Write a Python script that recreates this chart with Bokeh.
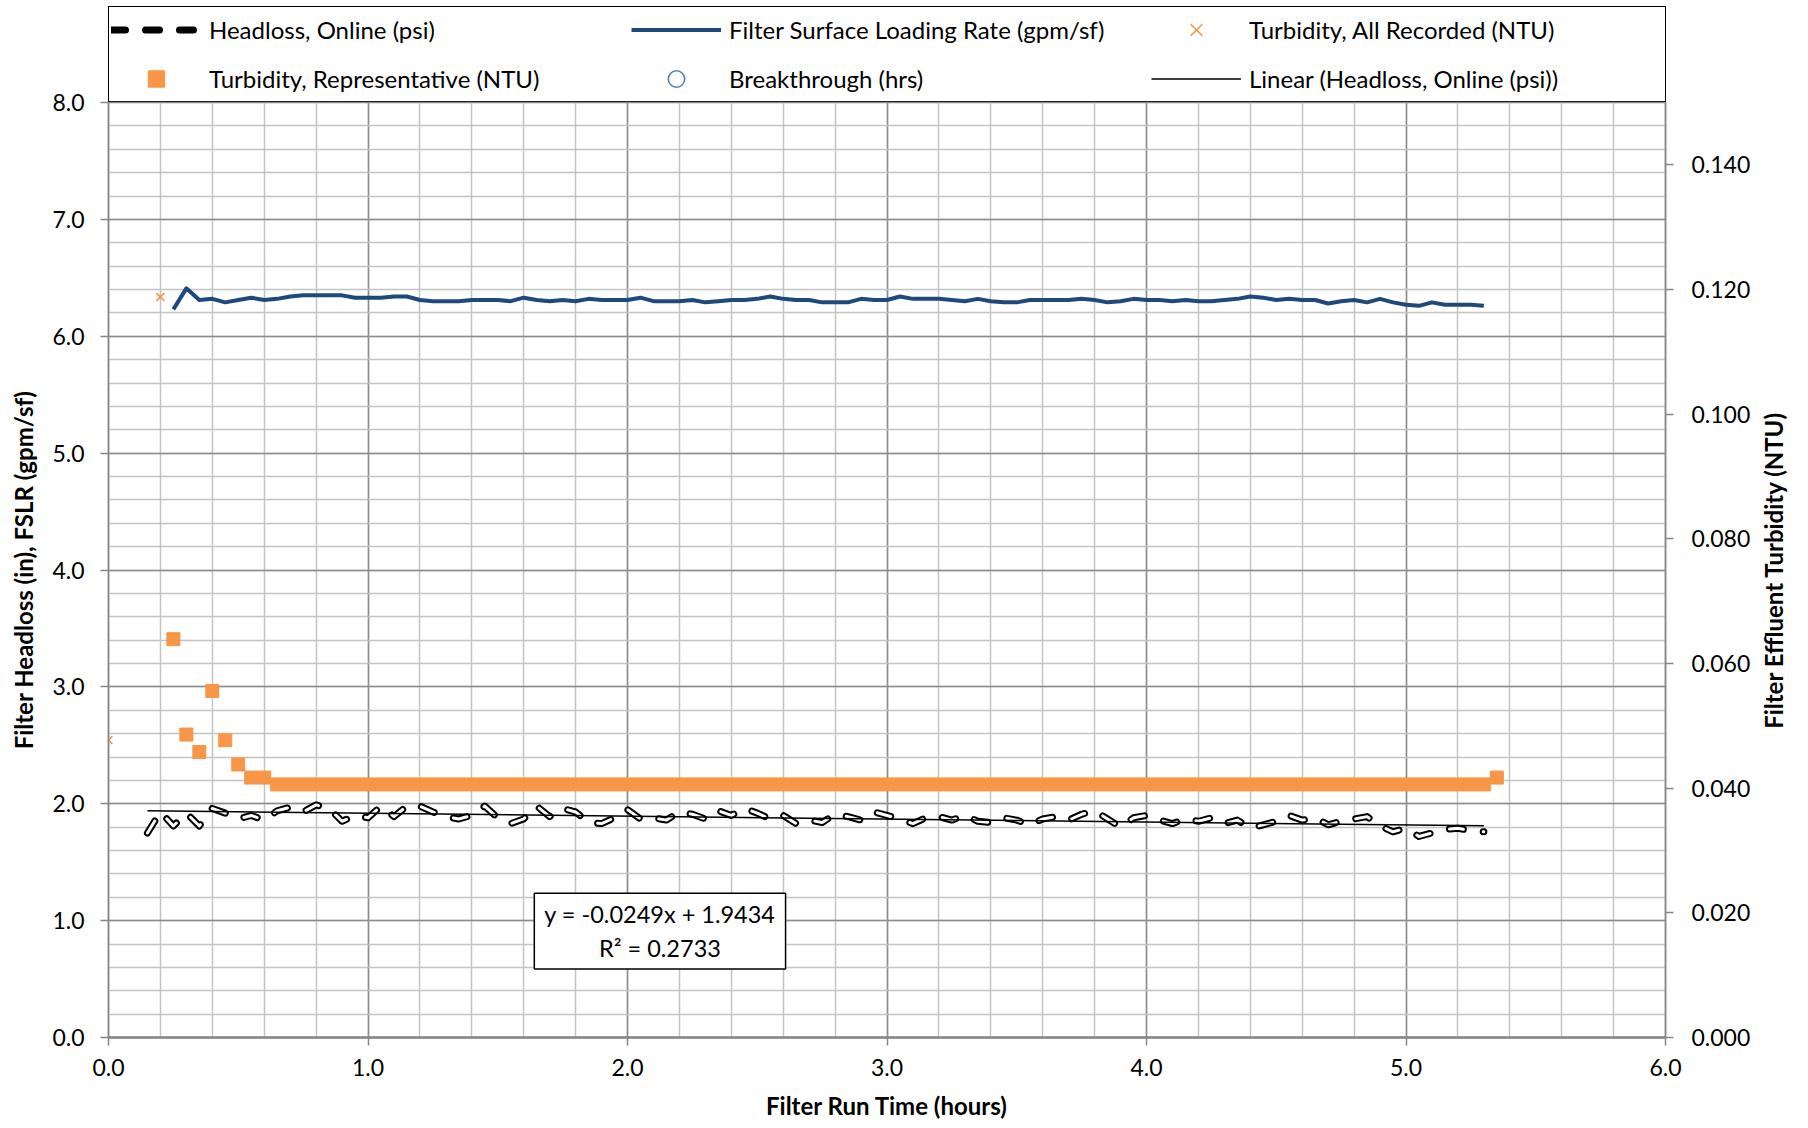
import math
from bokeh.plotting import figure
from bokeh.layouts import column, row
from bokeh.models import (Range1d, LinearAxis, SingleIntervalTicker, NumeralTickFormatter,
                          Legend, LegendItem, Label, ColumnDataSource)
from bokeh.embed import file_html
from bokeh.resources import INLINE

# ---------------- data ----------------
FSLR_TIME = [
    0.25, 0.30, 0.35, 0.40, 0.45, 0.50, 0.55, 0.60, 0.65, 0.70,
    0.75, 0.80, 0.85, 0.90, 0.95, 1.00, 1.05, 1.10, 1.15, 1.20,
    1.25, 1.30, 1.35, 1.40, 1.45, 1.50, 1.55, 1.60, 1.65, 1.70,
    1.75, 1.80, 1.85, 1.90, 1.95, 2.00, 2.05, 2.10, 2.15, 2.20,
    2.25, 2.30, 2.35, 2.40, 2.45, 2.50, 2.55, 2.60, 2.65, 2.70,
    2.75, 2.80, 2.85, 2.90, 2.95, 3.00, 3.05, 3.10, 3.15, 3.20,
    3.25, 3.30, 3.35, 3.40, 3.45, 3.50, 3.55, 3.60, 3.65, 3.70,
    3.75, 3.80, 3.85, 3.90, 3.95, 4.00, 4.05, 4.10, 4.15, 4.20,
    4.25, 4.30, 4.35, 4.40, 4.45, 4.50, 4.55, 4.60, 4.65, 4.70,
    4.75, 4.80, 4.85, 4.90, 4.95, 5.00, 5.05, 5.10, 5.15, 5.20,
    5.25, 5.30,
]
FSLR = [
    6.23, 6.41, 6.31, 6.32, 6.29, 6.31, 6.33, 6.31, 6.32, 6.34,
    6.35, 6.35, 6.35, 6.35, 6.33, 6.33, 6.33, 6.34, 6.34, 6.31,
    6.30, 6.30, 6.30, 6.31, 6.31, 6.31, 6.30, 6.33, 6.31, 6.30,
    6.31, 6.30, 6.32, 6.31, 6.31, 6.31, 6.33, 6.30, 6.30, 6.30,
    6.31, 6.29, 6.30, 6.31, 6.31, 6.32, 6.34, 6.32, 6.31, 6.31,
    6.29, 6.29, 6.29, 6.32, 6.31, 6.31, 6.34, 6.32, 6.32, 6.32,
    6.31, 6.30, 6.32, 6.30, 6.29, 6.29, 6.31, 6.31, 6.31, 6.31,
    6.32, 6.31, 6.29, 6.30, 6.32, 6.31, 6.31, 6.30, 6.31, 6.30,
    6.30, 6.31, 6.32, 6.34, 6.33, 6.31, 6.32, 6.31, 6.31, 6.28,
    6.30, 6.31, 6.29, 6.32, 6.29, 6.27, 6.26, 6.29, 6.27, 6.27,
    6.27, 6.26,
]

HEADLOSS_TIME = [
    0.15, 0.20, 0.25, 0.30, 0.35, 0.40, 0.45, 0.50, 0.55, 0.60,
    0.65, 0.70, 0.75, 0.80, 0.85, 0.90, 0.95, 1.00, 1.05, 1.10,
    1.15, 1.20, 1.25, 1.30, 1.35, 1.40, 1.45, 1.50, 1.55, 1.60,
    1.65, 1.70, 1.75, 1.80, 1.85, 1.90, 1.95, 2.00, 2.05, 2.10,
    2.15, 2.20, 2.25, 2.30, 2.35, 2.40, 2.45, 2.50, 2.55, 2.60,
    2.65, 2.70, 2.75, 2.80, 2.85, 2.90, 2.95, 3.00, 3.05, 3.10,
    3.15, 3.20, 3.25, 3.30, 3.35, 3.40, 3.45, 3.50, 3.55, 3.60,
    3.65, 3.70, 3.75, 3.80, 3.85, 3.90, 3.95, 4.00, 4.05, 4.10,
    4.15, 4.20, 4.25, 4.30, 4.35, 4.40, 4.45, 4.50, 4.55, 4.60,
    4.65, 4.70, 4.75, 4.80, 4.85, 4.90, 4.95, 5.00, 5.05, 5.10,
    5.15, 5.20, 5.25, 5.30,
]
HEADLOSS = [
    1.75, 1.93, 1.81, 1.92, 1.81, 1.96, 1.92, 1.87, 1.90, 1.86,
    1.94, 1.97, 1.93, 1.99, 1.96, 1.85, 1.90, 1.88, 1.98, 1.89,
    1.98, 1.98, 1.93, 1.89, 1.87, 1.90, 1.98, 1.88, 1.83, 1.87,
    1.98, 1.89, 1.96, 1.93, 1.84, 1.83, 1.88, 1.95, 1.87, 1.88,
    1.86, 1.93, 1.91, 1.87, 1.94, 1.90, 1.96, 1.92, 1.87, 1.90,
    1.83, 1.86, 1.84, 1.91, 1.89, 1.86, 1.93, 1.90, 1.87, 1.83,
    1.88, 1.89, 1.86, 1.90, 1.85, 1.84, 1.88, 1.86, 1.82, 1.87,
    1.89, 1.86, 1.91, 1.94, 1.87, 1.80, 1.88, 1.90, 1.86, 1.83,
    1.87, 1.85, 1.88, 1.83, 1.86, 1.79, 1.82, 1.85, 1.90, 1.86,
    1.88, 1.82, 1.85, 1.87, 1.89, 1.81, 1.76, 1.79, 1.72, 1.75,
    1.78, 1.79, 1.77, 1.76,
]

TURB_REP_TIME = [
    0.25, 0.30, 0.35, 0.40, 0.45, 0.50, 0.55, 0.60, 0.65, 0.70,
    0.75, 0.80, 0.85, 0.90, 0.95, 1.00, 1.05, 1.10, 1.15, 1.20,
    1.25, 1.30, 1.35, 1.40, 1.45, 1.50, 1.55, 1.60, 1.65, 1.70,
    1.75, 1.80, 1.85, 1.90, 1.95, 2.00, 2.05, 2.10, 2.15, 2.20,
    2.25, 2.30, 2.35, 2.40, 2.45, 2.50, 2.55, 2.60, 2.65, 2.70,
    2.75, 2.80, 2.85, 2.90, 2.95, 3.00, 3.05, 3.10, 3.15, 3.20,
    3.25, 3.30, 3.35, 3.40, 3.45, 3.50, 3.55, 3.60, 3.65, 3.70,
    3.75, 3.80, 3.85, 3.90, 3.95, 4.00, 4.05, 4.10, 4.15, 4.20,
    4.25, 4.30, 4.35, 4.40, 4.45, 4.50, 4.55, 4.60, 4.65, 4.70,
    4.75, 4.80, 4.85, 4.90, 4.95, 5.00, 5.05, 5.10, 5.15, 5.20,
    5.25, 5.30, 5.35,
]
TURB_REP = [
    0.0639, 0.0486, 0.0458, 0.0556, 0.0477, 0.0438, 0.0417, 0.0417, 0.0406, 0.0406,
    0.0406, 0.0406, 0.0406, 0.0406, 0.0406, 0.0406, 0.0406, 0.0406, 0.0406, 0.0406,
    0.0406, 0.0406, 0.0406, 0.0406, 0.0406, 0.0406, 0.0406, 0.0406, 0.0406, 0.0406,
    0.0406, 0.0406, 0.0406, 0.0406, 0.0406, 0.0406, 0.0406, 0.0406, 0.0406, 0.0406,
    0.0406, 0.0406, 0.0406, 0.0406, 0.0406, 0.0406, 0.0406, 0.0406, 0.0406, 0.0406,
    0.0406, 0.0406, 0.0406, 0.0406, 0.0406, 0.0406, 0.0406, 0.0406, 0.0406, 0.0406,
    0.0406, 0.0406, 0.0406, 0.0406, 0.0406, 0.0406, 0.0406, 0.0406, 0.0406, 0.0406,
    0.0406, 0.0406, 0.0406, 0.0406, 0.0406, 0.0406, 0.0406, 0.0406, 0.0406, 0.0406,
    0.0406, 0.0406, 0.0406, 0.0406, 0.0406, 0.0406, 0.0406, 0.0406, 0.0406, 0.0406,
    0.0406, 0.0406, 0.0406, 0.0406, 0.0406, 0.0406, 0.0406, 0.0406, 0.0406, 0.0406,
    0.0406, 0.0406, 0.0417,
]

TURB_ALL_TIME = [0.0, 0.2]
TURB_ALL = [0.0477, 0.1188]

BREAKTHROUGH_TIME = []
BREAKTHROUGH = []

TREND_TIME = [0.15, 5.30]
TREND_SLOPE = -0.0249
TREND_INTERCEPT = 1.9434
TREND_TEXT = "y = -0.0249x + 1.9434\nR² = 0.2733"

X_MAX = 6.0
Y_MAX = 8.0
Y2_MAX = 0.15

X_TITLE = "Filter Run Time (hours)"
Y_TITLE = "Filter Headloss (in), FSLR (gpm/sf)"
Y2_TITLE = "Filter Effluent Turbidity (NTU)"

LEGEND_LABELS = [
    "Headloss, Online (psi)",
    "Filter Surface Loading Rate (gpm/sf)",
    "Turbidity, All Recorded (NTU)",
    "Turbidity, Representative (NTU)",
    "Breakthrough (hrs)",
    "Linear (Headloss, Online (psi))",
]

# ---------------- styles / layout ----------------
FONT = "Lato"
ORANGE = "#F79646"
NAVY = "#1F497D"
LIGHTBLUE = "#4F81BD"
AXIS_GRAY = "#868686"

FRAME_W = 1557
FRAME_H = 935
TOP_PAD = 14          # room for the "8.0" tick label above the frame
BOTTOM_PAD = 90
MAIN_LEFT = 108
MAIN_RIGHT = 88
TITLE_W = 40          # strip holding the right-hand axis title
TOTAL_W = MAIN_LEFT + FRAME_W + MAIN_RIGHT + TITLE_W
LEG_FIG_H = 102
LEG_LEFT = 107
LEG_FRAME_W = 1562

HL_STYLE = dict(line_color="black", line_width=7, line_dash="14 20",
                line_cap="round", line_join="round")
FSLR_STYLE = dict(line_color=NAVY, line_width=4, line_join="round")
TREND_STYLE = dict(line_color="black", line_width=1.5)
REP_STYLE = dict(marker="square", size=13, fill_color=ORANGE, line_color=ORANGE)
ALL_STYLE = dict(marker="x", size=11, line_color=ORANGE, line_width=1.6)
BT_STYLE = dict(marker="circle", size=14, fill_color=None, line_color=LIGHTBLUE, line_width=1.6)

# ================= main chart =================
p = figure(frame_width=FRAME_W, frame_height=FRAME_H,
           output_backend="svg", toolbar_location=None,
           x_range=Range1d(0, X_MAX), y_range=Range1d(0, Y_MAX),
           min_border_left=MAIN_LEFT, min_border_right=MAIN_RIGHT,
           min_border_top=TOP_PAD, min_border_bottom=BOTTOM_PAD,
           background_fill_color="white", border_fill_color="white",
           border_fill_alpha=0.0)
p.extra_y_ranges = {"ntu": Range1d(0, Y2_MAX)}
p.outline_line_color = AXIS_GRAY
p.outline_line_width = 1.5

xt = SingleIntervalTicker(interval=1, num_minor_ticks=5)
yt = SingleIntervalTicker(interval=1, num_minor_ticks=5)
ax_x = p.xaxis[0]
ax_l = p.yaxis[0]
ax_x.ticker = xt
ax_l.ticker = yt
p.xgrid.ticker = xt
p.ygrid.ticker = yt
ax_x.formatter = NumeralTickFormatter(format="0.0")
ax_l.formatter = NumeralTickFormatter(format="0.0")
ax_x.axis_label = X_TITLE
ax_l.axis_label = Y_TITLE

for g in (p.xgrid, p.ygrid):
    g.grid_line_color = "#8C8C8C"
    g.grid_line_width = 1.5
    g.minor_grid_line_color = "#C4C4C4"
    g.minor_grid_line_width = 1.5

ax_r = LinearAxis(y_range_name="ntu",
                  ticker=SingleIntervalTicker(interval=0.02, num_minor_ticks=0),
                  formatter=NumeralTickFormatter(format="0.000"),
                  axis_label=None)
p.add_layout(ax_r, "right")

for ax in (ax_x, ax_l, ax_r):
    ax.axis_line_color = AXIS_GRAY
    ax.axis_line_width = 1.5
    ax.major_tick_line_color = AXIS_GRAY
    ax.major_tick_line_width = 1.5
    ax.major_tick_out = 8
    ax.major_tick_in = 0
    ax.minor_tick_line_color = None
    ax.major_label_text_font = FONT
    ax.major_label_text_font_size = "23px"
    ax.major_label_text_color = "black"
    ax.axis_label_text_font = FONT
    ax.axis_label_text_font_size = "24px"
    ax.axis_label_text_font_style = "bold"
    ax.axis_label_text_color = "black"

ax_x.axis_line_width = 2.5
ax_x.major_label_standoff = 13
ax_x.axis_label_standoff = 12
ax_l.major_label_standoff = 16
ax_l.axis_label_standoff = 11
ax_r.major_label_standoff = 18

hl_src = ColumnDataSource(data=dict(t=HEADLOSS_TIME, v=HEADLOSS))
p.line("t", "v", source=hl_src, **HL_STYLE)
p.line("t", "v", source=hl_src, line_color="white", line_width=3,
       line_dash="14 20", line_cap="round", line_join="round")
p.line(FSLR_TIME, FSLR, **FSLR_STYLE)
trend_y = [TREND_SLOPE * t + TREND_INTERCEPT for t in TREND_TIME]
p.line(TREND_TIME, trend_y, **TREND_STYLE)
p.scatter(TURB_REP_TIME, TURB_REP, y_range_name="ntu", **REP_STYLE)
p.scatter(TURB_ALL_TIME, TURB_ALL, y_range_name="ntu", **ALL_STYLE)
bt_src = ColumnDataSource(data=dict(t=BREAKTHROUGH_TIME, v=BREAKTHROUGH))
p.scatter("t", "v", source=bt_src, **BT_STYLE)

eq = Label(x=2.125, y=0.91, text=TREND_TEXT, text_align="center", text_baseline="middle",
           text_font=FONT, text_font_size="23.5px", text_color="black",
           background_fill_color="white", background_fill_alpha=1.0,
           border_line_color="black", border_line_width=1.5,
           padding=dict(left=10, right=10, top=7, bottom=7))
p.add_layout(eq)

# ================= right-hand axis title strip =================
tf = figure(frame_width=TITLE_W, frame_height=FRAME_H,
            output_backend="svg", toolbar_location=None,
            x_range=Range1d(0, 1), y_range=Range1d(0, 1),
            x_axis_type=None, y_axis_type=None,
            min_border_left=0, min_border_right=0,
            min_border_top=TOP_PAD, min_border_bottom=BOTTOM_PAD,
            background_fill_color="white", background_fill_alpha=0.0,
            border_fill_color="white", border_fill_alpha=0.0)
tf.outline_line_color = None
tf.grid.visible = False
tf.add_layout(Label(x=0.5, y=0.5, text=Y2_TITLE, angle=math.pi / 2,
                    text_align="center", text_baseline="middle",
                    text_font=FONT, text_font_size="24px", text_font_style="bold",
                    text_color="black"))

# ================= legend strip (own small plot above the chart) =================
lf = figure(frame_width=LEG_FRAME_W, frame_height=LEG_FIG_H - 5,
            output_backend="svg", toolbar_location=None,
            x_range=Range1d(0, 1), y_range=Range1d(0, 1),
            x_axis_type=None, y_axis_type=None,
            min_border_left=LEG_LEFT, min_border_right=TOTAL_W - LEG_LEFT - LEG_FRAME_W,
            min_border_top=5, min_border_bottom=0,
            background_fill_color="white", border_fill_color="white")
lf.outline_line_color = None
lf.grid.visible = False
# legend keys: renderers styled like the chart's series, with points kept off the visible range
OFF = [-5, -4]
k_hl = lf.line(OFF, OFF, **HL_STYLE)
k_fslr = lf.line(OFF, OFF, **FSLR_STYLE)
k_all = lf.scatter(OFF, OFF, **ALL_STYLE)
k_rep = lf.scatter(OFF, OFF, **REP_STYLE)
k_bt = lf.scatter(OFF, OFF, **BT_STYLE)
k_tr = lf.line(OFF, OFF, **TREND_STYLE)
keys = [k_hl, k_fslr, k_all, k_rep, k_bt, k_tr]

legend = Legend(items=[LegendItem(label=lab, renderers=[r]) for lab, r in zip(LEGEND_LABELS, keys)],
                orientation="horizontal", ncols=3, location="top_left",
                glyph_width=90, glyph_height=41, label_height=41, label_width=414,
                label_standoff=8, spacing=8, padding=2, margin=1,
                border_line_color="black", border_line_width=1.5, border_line_alpha=1.0,
                background_fill_color="white", background_fill_alpha=1.0,
                label_text_font=FONT, label_text_font_size="24px", label_text_color="black")
lf.add_layout(legend)

chart_row = row(p, tf, spacing=0)
chart_row.margin = (-TOP_PAD, 0, 0, 0)
layout = column(lf, chart_row, spacing=0)
open("out.html", "w").write(file_html(layout, INLINE))
